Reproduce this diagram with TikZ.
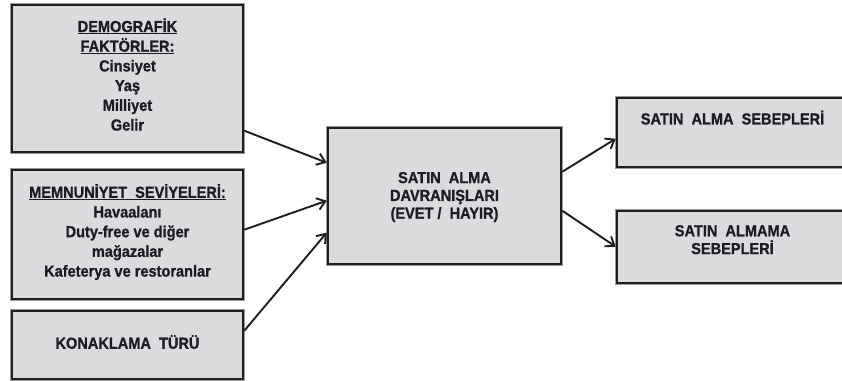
\documentclass[tikz,border=0pt]{standalone}
\usepackage{fontspec}
\setmainfont{Liberation Sans}[FakeStretch=0.91, BoldFeatures={FakeBold=1}]
\usetikzlibrary{calc,arrows.meta}
\definecolor{boxfill}{HTML}{DADBDD}
\definecolor{boxedge}{HTML}{1E1E1E}
\definecolor{halo}{HTML}{9A9A9A}
\definecolor{ink}{HTML}{1C1C24}
\tikzset{
  panel/.style={rectangle, fill=boxfill, draw=boxedge, line width=2.6pt,
    inner sep=0pt, preaction={draw=halo, line width=4.4pt}},
  caption/.style={text=ink, align=center, inner sep=0pt,
    font=\bfseries\fontsize{16}{19.7}\selectfont},
  tight/.style={font=\bfseries\fontsize{16}{17.8}\selectfont},
  link/.style={draw=boxedge, line width=1.9pt,
    -{Straight Barb[length=8pt,width=12pt,line width=1.9pt]}}
}
\begin{document}
\begin{tikzpicture}[x=1pt,y=-1pt]
  \useasboundingbox (0,0) rectangle (842,380);
  \clip (0,0) rectangle (842,380);

  % input boxes on the left
  \node[panel, minimum width=231pt, minimum height=147pt] (demo) at (127.5,78.5) {};
  \node[panel, minimum width=231pt, minimum height=129pt] (memn) at (127.5,234.5) {};
  \node[panel, minimum width=231pt, minimum height=68pt] (konak) at (127.5,345) {};

  % central behaviour box
  \node[panel, minimum width=233pt, minimum height=136pt] (davr) at (444.5,196) {};

  % outcome boxes on the right
  \node[panel, minimum width=233pt, minimum height=69pt] (alma) at (733.5,132.5) {};
  \node[panel, minimum width=233pt, minimum height=72pt] (almama) at (733.5,247) {};

  % box texts
  \node[caption] (demotxt) at ($(demo.center)+(0,-4)$)
    {\underline{DEMOGRAFİK}\\\underline{FAKTÖRLER:}\\Cinsiyet\\Yaş\\Milliyet\\Gelir};
  \node[caption] (memntxt) at ($(memn.center)+(0,-2.5)$)
    {\underline{MEMNUNİYET\ \ SEVİYELERİ:}\\Havaalanı\\Duty-free ve diğer\\mağazalar\\Kafeterya ve restoranlar};
  \node[caption] (konaktxt) at ($(konak.center)+(0,-3)$) {KONAKLAMA\ \ TÜRÜ};
  \node[caption, tight] (davrtxt) at ($(davr.center)+(0,1)$)
    {SATIN\ \ ALMA\\DAVRANIŞLARI\\(EVET /\ \ HAYIR)};
  \node[caption] (almatxt) at ($(alma.north)+(-1,21)$) {SATIN\ \ ALMA\ \ SEBEPLERİ};
  \node[caption, tight] (almamatxt) at ($(almama.north)+(-1,30)$) {SATIN\ \ ALMAMA\\SEBEPLERİ};

  % connectors
  \draw[link] ($(demo.north east)+(0,127)$) -- ($(davr.north west)+(0,36)$);
  \draw[link] ($(memn.north east)+(0,61)$) -- ($(davr.north west)+(0,74)$);
  \draw[link] ($(konak.north east)+(0,21)$) -- ($(davr.north west)+(0,106)$);
  \draw[link] ($(davr.north east)+(0,45)$) -- ($(alma.north west)+(0,42)$);
  \draw[link] ($(davr.north east)+(0,84)$) -- ($(almama.north west)+(0,37)$);
\end{tikzpicture}
\end{document}
